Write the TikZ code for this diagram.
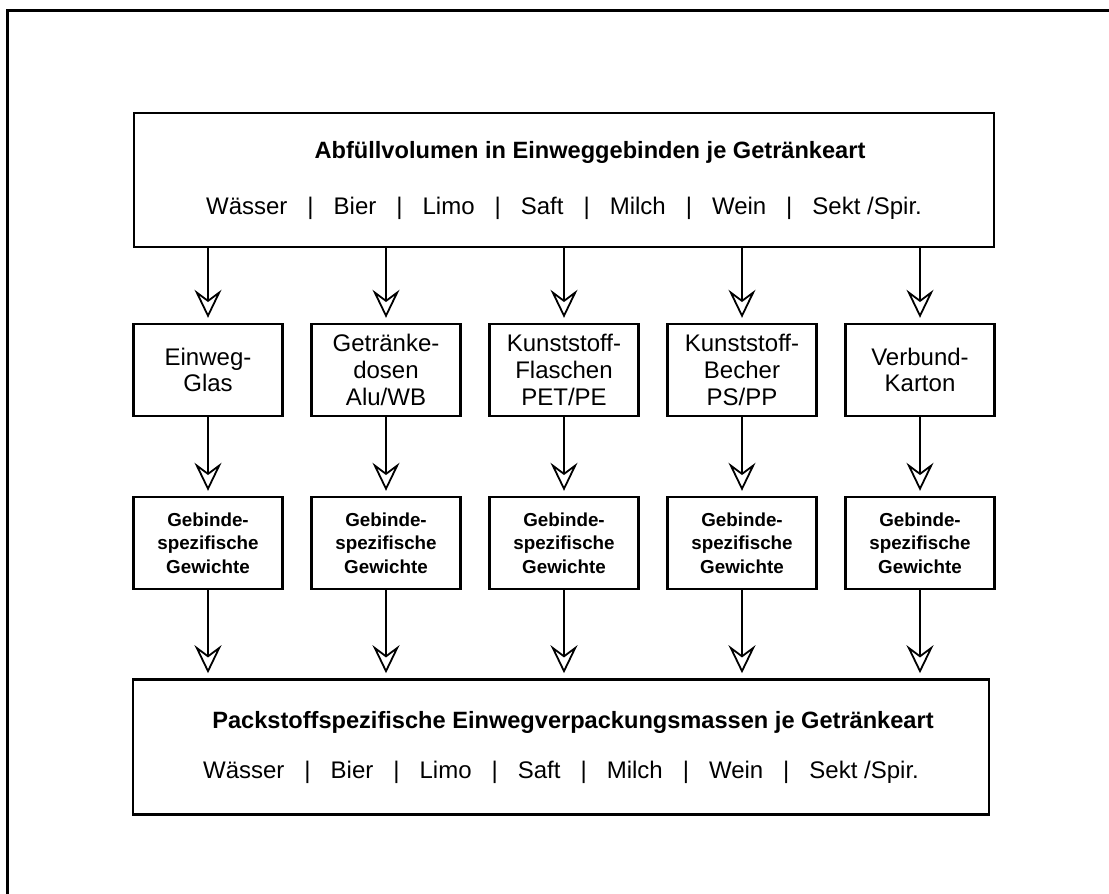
\documentclass[tikz,border=0pt]{standalone}
\usepackage{fontspec}
\setmainfont{Liberation Sans}
\usetikzlibrary{arrows.meta}
\newcommand{\trenn}{\hspace{10pt}|\hspace{10pt}}

\begin{document}
\begin{tikzpicture}[x=0.5pt,y=-0.5pt,
  bigbox/.style={draw,line width=1.3pt,minimum width=430pt,minimum height=67pt,inner sep=0pt,align=center,font=\fontsize{12}{14}\selectfont},
  packbox/.style={draw,line width=1.2pt,minimum width=74.5pt,minimum height=46pt,inner sep=0pt,align=center,font=\fontsize{12}{13.3}\selectfont},
  gewbox/.style={packbox,font=\bfseries\fontsize{9.4}{11.7}\selectfont},
  pfeil/.style={-{Stealth[open,length=14pt,width=13.5pt,inset=5pt]},line width=0.9pt,shorten >=2.5pt}]

\useasboundingbox (0,0) rectangle (1109,894);
\draw[line width=1.5pt] (7,894) -- (7,10) -- (1109,10);

% Abfuellvolumen
\node[bigbox] (fill) at (564,180) {\hspace*{26pt}{\bfseries\fontsize{11.8}{14}\selectfont Abfüllvolumen in Einweggebinden je Getränkeart}\\[14pt]
  Wässer\trenn Bier\trenn Limo\trenn Saft\trenn Milch\trenn Wein\trenn Sekt /Spir.};

% Packstoffe
\node[packbox] (pk1) at (208,370) {Einweg-\\Glas};
\node[packbox] (pk2) at (386,370) {Getränke-\\dosen\\Alu/WB};
\node[packbox] (pk3) at (564,370) {Kunststoff-\\Flaschen\\PET/PE};
\node[packbox] (pk4) at (742,370) {Kunststoff-\\Becher\\PS/PP};
\node[packbox] (pk5) at (920,370) {Verbund-\\Karton};

% Gewichte
\node[gewbox] (gw1) at (208,543) {Gebinde-\\spezifische\\Gewichte};
\node[gewbox] (gw2) at (386,543) {Gebinde-\\spezifische\\Gewichte};
\node[gewbox] (gw3) at (564,543) {Gebinde-\\spezifische\\Gewichte};
\node[gewbox] (gw4) at (742,543) {Gebinde-\\spezifische\\Gewichte};
\node[gewbox] (gw5) at (920,543) {Gebinde-\\spezifische\\Gewichte};

% Einwegverpackungsmassen
\node[bigbox,minimum width=428pt,minimum height=67.5pt] (mass) at (561,747) {\hspace*{12pt}{\bfseries\fontsize{11.8}{14}\selectfont Packstoffspezifische Einwegverpackungsmassen je Getränkeart}\\[11pt]
  Wässer\trenn Bier\trenn Limo\trenn Saft\trenn Milch\trenn Wein\trenn Sekt /Spir.};

\foreach \i in {1,...,5} {
  \draw[pfeil] (fill.south -| pk\i) -- (pk\i.north);
  \draw[pfeil] (pk\i.south) -- (gw\i.north);
  \draw[pfeil] (gw\i.south) -- (mass.north -| gw\i);
}

\end{tikzpicture}
\end{document}
